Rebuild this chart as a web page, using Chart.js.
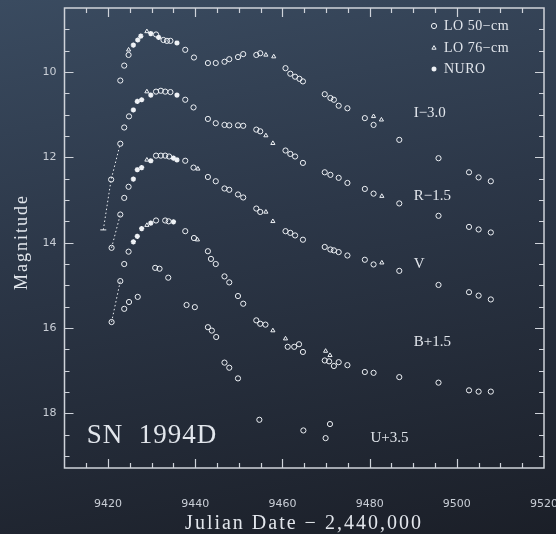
<!DOCTYPE html>
<html>
<head>
<meta charset="utf-8">
<script src="https://cdn.jsdelivr.net/npm/chart.js@4.4.0/dist/chart.umd.min.js"></script>
<style>
  html, body { margin: 0; padding: 0; }
  body {
    width: 556px; height: 534px; overflow: hidden;
    background: linear-gradient(170deg, #3a4b60 0%, #2c3748 42%, #1b1f28 100%);
  }
  #wrap { position: relative; width: 556px; height: 534px; }
</style>
</head>
<body>
<div id="wrap"><canvas id="lc"></canvas></div>
<script>
// axis labels
const xTickLabels = [9420, 9440, 9460, 9480, 9500, 9520];
const yTickLabels = [10, 12, 14, 16, 18];

// I-3.0
const iLO50 = [[9422.8,10.20],[9423.7,9.85],[9424.7,9.60],[9431.0,9.12],[9432.7,9.25],[9433.5,9.27],[9434.3,9.27],[9437.7,9.48],[9439.7,9.66],[9442.9,9.79],[9444.7,9.79],[9446.7,9.76],[9447.8,9.70],[9449.8,9.65],[9451.0,9.58],[9454.0,9.60],[9454.9,9.56],[9460.7,9.91],[9461.8,10.04],[9462.9,10.11],[9463.9,10.16],[9464.7,10.22],[9469.7,10.52],[9471.0,10.61],[9471.8,10.65],[9472.9,10.79],[9474.9,10.85],[9478.9,11.08],[9480.9,11.24],[9486.8,11.59],[9495.8,12.02],[9502.8,12.35],[9505.0,12.47],[9507.8,12.56]];
const iLO76 = [[9424.7,9.48],[9428.9,9.05],[9456.2,9.60],[9458.0,9.64],[9480.9,11.04],[9482.7,11.12]];
const iNURO = [[9425.8,9.37],[9426.8,9.25],[9427.5,9.16],[9429.8,9.10],[9431.6,9.19],[9435.8,9.32]];

// R-1.5
const rLO50 = [[9420.7,12.52],[9422.8,11.68],[9423.7,11.30],[9424.8,11.04],[9431.0,10.46],[9432.1,10.44],[9433.1,10.46],[9434.3,10.47],[9437.7,10.65],[9439.6,10.83],[9442.9,11.10],[9444.7,11.20],[9446.7,11.24],[9447.8,11.25],[9449.8,11.25],[9451.0,11.26],[9454.0,11.35],[9454.9,11.39],[9460.7,11.84],[9461.8,11.92],[9462.9,11.98],[9464.7,12.13],[9469.7,12.35],[9471.0,12.41],[9472.9,12.48],[9474.9,12.60],[9478.9,12.74],[9480.9,12.85],[9486.8,13.08],[9495.8,13.37],[9502.8,13.63],[9505.0,13.69],[9507.8,13.76]];
const rLO76 = [[9428.9,10.46],[9456.2,11.49],[9457.8,11.67],[9482.8,12.91]];
const rNURO = [[9425.8,10.89],[9426.7,10.69],[9427.7,10.65],[9429.8,10.54],[9435.8,10.54]];
const rDotted = [[9418.9,13.70],[9420.7,12.52],[9422.8,11.68]];

// V
const vLO50 = [[9420.8,14.12],[9422.8,13.34],[9423.7,12.95],[9424.7,12.69],[9431.0,11.96],[9432.1,11.96],[9433.1,11.96],[9434.0,11.98],[9437.7,12.08],[9439.6,12.24],[9442.9,12.46],[9444.7,12.56],[9446.7,12.73],[9447.8,12.76],[9449.8,12.87],[9451.0,12.94],[9454.0,13.20],[9454.9,13.28],[9460.7,13.73],[9461.8,13.77],[9462.9,13.83],[9464.7,13.93],[9469.7,14.10],[9471.0,14.16],[9471.8,14.18],[9472.9,14.22],[9474.9,14.30],[9478.9,14.40],[9480.9,14.51],[9486.8,14.66],[9495.8,14.99],[9502.8,15.16],[9505.0,15.24],[9507.8,15.33]];
const vLO76 = [[9428.9,12.06],[9440.6,12.27],[9456.2,13.28],[9457.8,13.50],[9482.8,14.47]];
const vNURO = [[9425.8,12.51],[9426.7,12.29],[9427.7,12.24],[9429.8,12.08],[9435.0,12.02],[9435.8,12.06]];
const vDotted = [[9420.8,14.12],[9422.8,13.34]];

// B+1.5
const bLO50 = [[9420.8,15.86],[9422.8,14.90],[9423.7,14.50],[9424.7,14.21],[9431.0,13.48],[9433.1,13.48],[9433.9,13.50],[9437.7,13.73],[9439.7,13.89],[9442.9,14.20],[9443.6,14.38],[9444.7,14.50],[9446.7,14.79],[9447.8,14.93],[9449.8,15.25],[9451.0,15.43],[9454.0,15.82],[9454.9,15.90],[9456.1,15.92],[9461.2,16.44],[9462.7,16.44],[9463.8,16.38],[9464.7,16.56],[9469.7,16.76],[9470.7,16.78],[9471.8,16.89],[9472.9,16.80],[9474.9,16.87],[9478.9,17.03],[9480.9,17.05],[9486.8,17.15],[9495.8,17.28],[9502.8,17.46],[9505.0,17.49],[9507.8,17.49]];
const bLO76 = [[9428.9,13.59],[9440.5,13.93],[9457.8,16.06],[9460.7,16.25],[9469.9,16.54],[9470.9,16.64]];
const bNURO = [[9425.8,13.98],[9426.7,13.85],[9427.7,13.67],[9429.8,13.54],[9435.0,13.51]];
const bDotted = [[9420.8,15.86],[9422.8,14.90]];

// U+3.5
const uLO50 = [[9423.7,15.55],[9424.8,15.39],[9426.8,15.27],[9430.8,14.59],[9431.8,14.61],[9433.8,14.82],[9438.0,15.46],[9439.9,15.51],[9442.9,15.98],[9443.8,16.06],[9444.8,16.21],[9446.7,16.81],[9447.8,16.93],[9449.8,17.18],[9454.7,18.15],[9464.8,18.40],[9469.9,18.58],[9470.9,18.25]];

const ink = "#eef1f5";
const textCol = "#e2e6ec";
const tickCol = "#c9ced6";

function pts(arr) {
  return arr.map((p) => ({ x: p[0], y: p[1] }));
}
function lo50(arr) {
  return { data: pts(arr), pointStyle: "circle", pointRadius: 2.6, pointBorderWidth: 1,
    borderColor: ink, backgroundColor: "transparent", showLine: false };
}
function lo76(arr) {
  return { data: pts(arr), pointStyle: "triangle", pointRadius: 2.4, pointBorderWidth: 1,
    borderColor: ink, backgroundColor: "transparent", showLine: false };
}
function nuro(arr) {
  return { data: pts(arr), pointStyle: "star", pointRadius: 2.6, pointBorderWidth: 1.5,
    borderColor: ink, backgroundColor: ink, showLine: false };
}
function dotted(arr, tickEnd) {
  return { data: pts(arr), showLine: true, borderColor: ink, borderWidth: 1,
    borderDash: [1.5, 2.5], pointStyle: "line", pointBorderWidth: 1,
    pointRadius: (c) => (tickEnd && c.dataIndex === 0 ? 3 : 0) };
}
// no extra room for the tick labels, the plot box is fixed
function noPad(s) {
  s.paddingLeft = 0; s.paddingRight = 0; s.paddingTop = 0; s.paddingBottom = 0;
}

// frame with inward ticks on all four sides
const frame = {
  id: "frame",
  beforeDatasetsDraw(chart) {
    const { ctx, chartArea: a, scales } = chart;
    const x = scales.x, y = scales.y;
    ctx.save();
    ctx.strokeStyle = "#cfd3da";
    ctx.lineWidth = 1.5;
    ctx.strokeRect(a.left, a.top, a.right - a.left, a.bottom - a.top);
    ctx.lineWidth = 1.2;
    ctx.beginPath();
    for (let d = 9415; d < 9520; d += 5) {
      const px = Math.round(x.getPixelForValue(d)) + 0.5;
      const len = d % 20 === 0 ? 9 : 5;
      ctx.moveTo(px, a.bottom); ctx.lineTo(px, a.bottom - len);
      ctx.moveTo(px, a.top); ctx.lineTo(px, a.top + len);
    }
    for (let m = 9; m <= 19; m += 0.5) {
      const py = Math.round(y.getPixelForValue(m)) + 0.5;
      const len = m % 2 === 0 ? 9 : 5;
      ctx.moveTo(a.left, py); ctx.lineTo(a.left + len, py);
      ctx.moveTo(a.right, py); ctx.lineTo(a.right - len, py);
    }
    ctx.stroke();
    ctx.restore();
  },
};

// band labels, titles and legend
const notes = {
  id: "notes",
  afterDraw(chart) {
    const { ctx, chartArea: a, scales } = chart;
    const x = scales.x, y = scales.y;
    ctx.save();
    ctx.fillStyle = textCol;
    ctx.textBaseline = "middle";
    ctx.textAlign = "left";
    ctx.font = "15px 'Liberation Serif'";
    ctx.fillText("I\u22123.0", x.getPixelForValue(9490.1), y.getPixelForValue(10.96));
    ctx.fillText("R\u22121.5", x.getPixelForValue(9490.1), y.getPixelForValue(12.90));
    ctx.fillText("V", x.getPixelForValue(9490.1), y.getPixelForValue(14.51));
    ctx.fillText("B+1.5", x.getPixelForValue(9490.1), y.getPixelForValue(16.34));
    ctx.fillText("U+3.5", x.getPixelForValue(9480.2), y.getPixelForValue(18.59));

    ctx.font = "27px 'Liberation Serif'";
    ctx.letterSpacing = "1px";
    ctx.fillText("SN  1994D", x.getPixelForValue(9415.1), y.getPixelForValue(18.53));

    // legend
    ctx.font = "14px 'Liberation Serif'";
    ctx.letterSpacing = "0.5px";
    const lx = a.right - 110, rows = [a.top + 18, a.top + 40, a.top + 61];
    const names = ["LO 50\u2212cm", "LO 76\u2212cm", "NURO"];
    ctx.strokeStyle = ink;
    ctx.lineWidth = 1;
    rows.forEach((ry, i) => ctx.fillText(names[i], lx + 10, ry));
    ctx.beginPath();
    ctx.arc(lx, rows[0], 2.6, 0, Math.PI * 2);
    ctx.stroke();
    ctx.beginPath();
    ctx.moveTo(lx, rows[1] - 2.4); ctx.lineTo(lx + 2.1, rows[1] + 1.2); ctx.lineTo(lx - 2.1, rows[1] + 1.2);
    ctx.closePath(); ctx.stroke();
    ctx.lineWidth = 1.5;
    ctx.beginPath();
    ctx.moveTo(lx - 2.5, rows[2]); ctx.lineTo(lx + 2.5, rows[2]);
    ctx.moveTo(lx, rows[2] - 2.5); ctx.lineTo(lx, rows[2] + 2.5);
    ctx.moveTo(lx - 1.8, rows[2] - 1.8); ctx.lineTo(lx + 1.8, rows[2] + 1.8);
    ctx.moveTo(lx - 1.8, rows[2] + 1.8); ctx.lineTo(lx + 1.8, rows[2] - 1.8);
    ctx.stroke();

    // axis titles
    ctx.textAlign = "center";
    ctx.font = "20px 'Liberation Serif'";
    ctx.letterSpacing = "2px";
    ctx.fillText("Julian Date \u2212 2,440,000", 304, 524);
    ctx.translate(22, 242);
    ctx.rotate(-Math.PI / 2);
    ctx.font = "18px 'Liberation Serif'";
    ctx.fillText("Magnitude", 0, 0);
    ctx.restore();
  },
};

document.addEventListener("DOMContentLoaded", function () {
  const ctx = document.getElementById("lc").getContext("2d");
  new Chart(ctx, {
    type: "scatter",
    data: {
      datasets: [
        dotted(rDotted, true), dotted(vDotted, false), dotted(bDotted, false),
        lo50(iLO50), lo76(iLO76), nuro(iNURO),
        lo50(rLO50), lo76(rLO76), nuro(rNURO),
        lo50(vLO50), lo76(vLO76), nuro(vNURO),
        lo50(bLO50), lo76(bLO76), nuro(bNURO),
        lo50(uLO50),
      ],
    },
    options: {
      responsive: true,
      maintainAspectRatio: false,
      animation: false,
      devicePixelRatio: 1,
      layout: { padding: { top: 8, right: 12, left: 0, bottom: 0 } },
      plugins: { legend: { display: false }, tooltip: { enabled: false } },
      scales: {
        x: {
          type: "linear", min: 9410, max: 9520,
          grid: { display: false, drawTicks: false },
          border: { display: false },
          afterBuildTicks: (s) => { s.ticks = xTickLabels.map((v) => ({ value: v })); },
          afterFit: (s) => { s.height = 66; noPad(s); },
          ticks: { color: tickCol, padding: 30, maxRotation: 0,
            callback: (v) => String(v),
            font: { family: "DejaVu Sans", size: 11 } },
        },
        y: {
          type: "linear", reverse: true, min: 8.5, max: 19.28,
          grid: { display: false, drawTicks: false },
          border: { display: false },
          afterBuildTicks: (s) => { s.ticks = yTickLabels.map((v) => ({ value: v })); },
          afterFit: (s) => { s.width = 64.5; noPad(s); },
          ticks: { color: tickCol, padding: 8,
            callback: (v) => String(v),
            font: { family: "DejaVu Sans", size: 11 } },
        },
      },
    },
    plugins: [frame, notes],
  });
});
</script>
</body>
</html>
